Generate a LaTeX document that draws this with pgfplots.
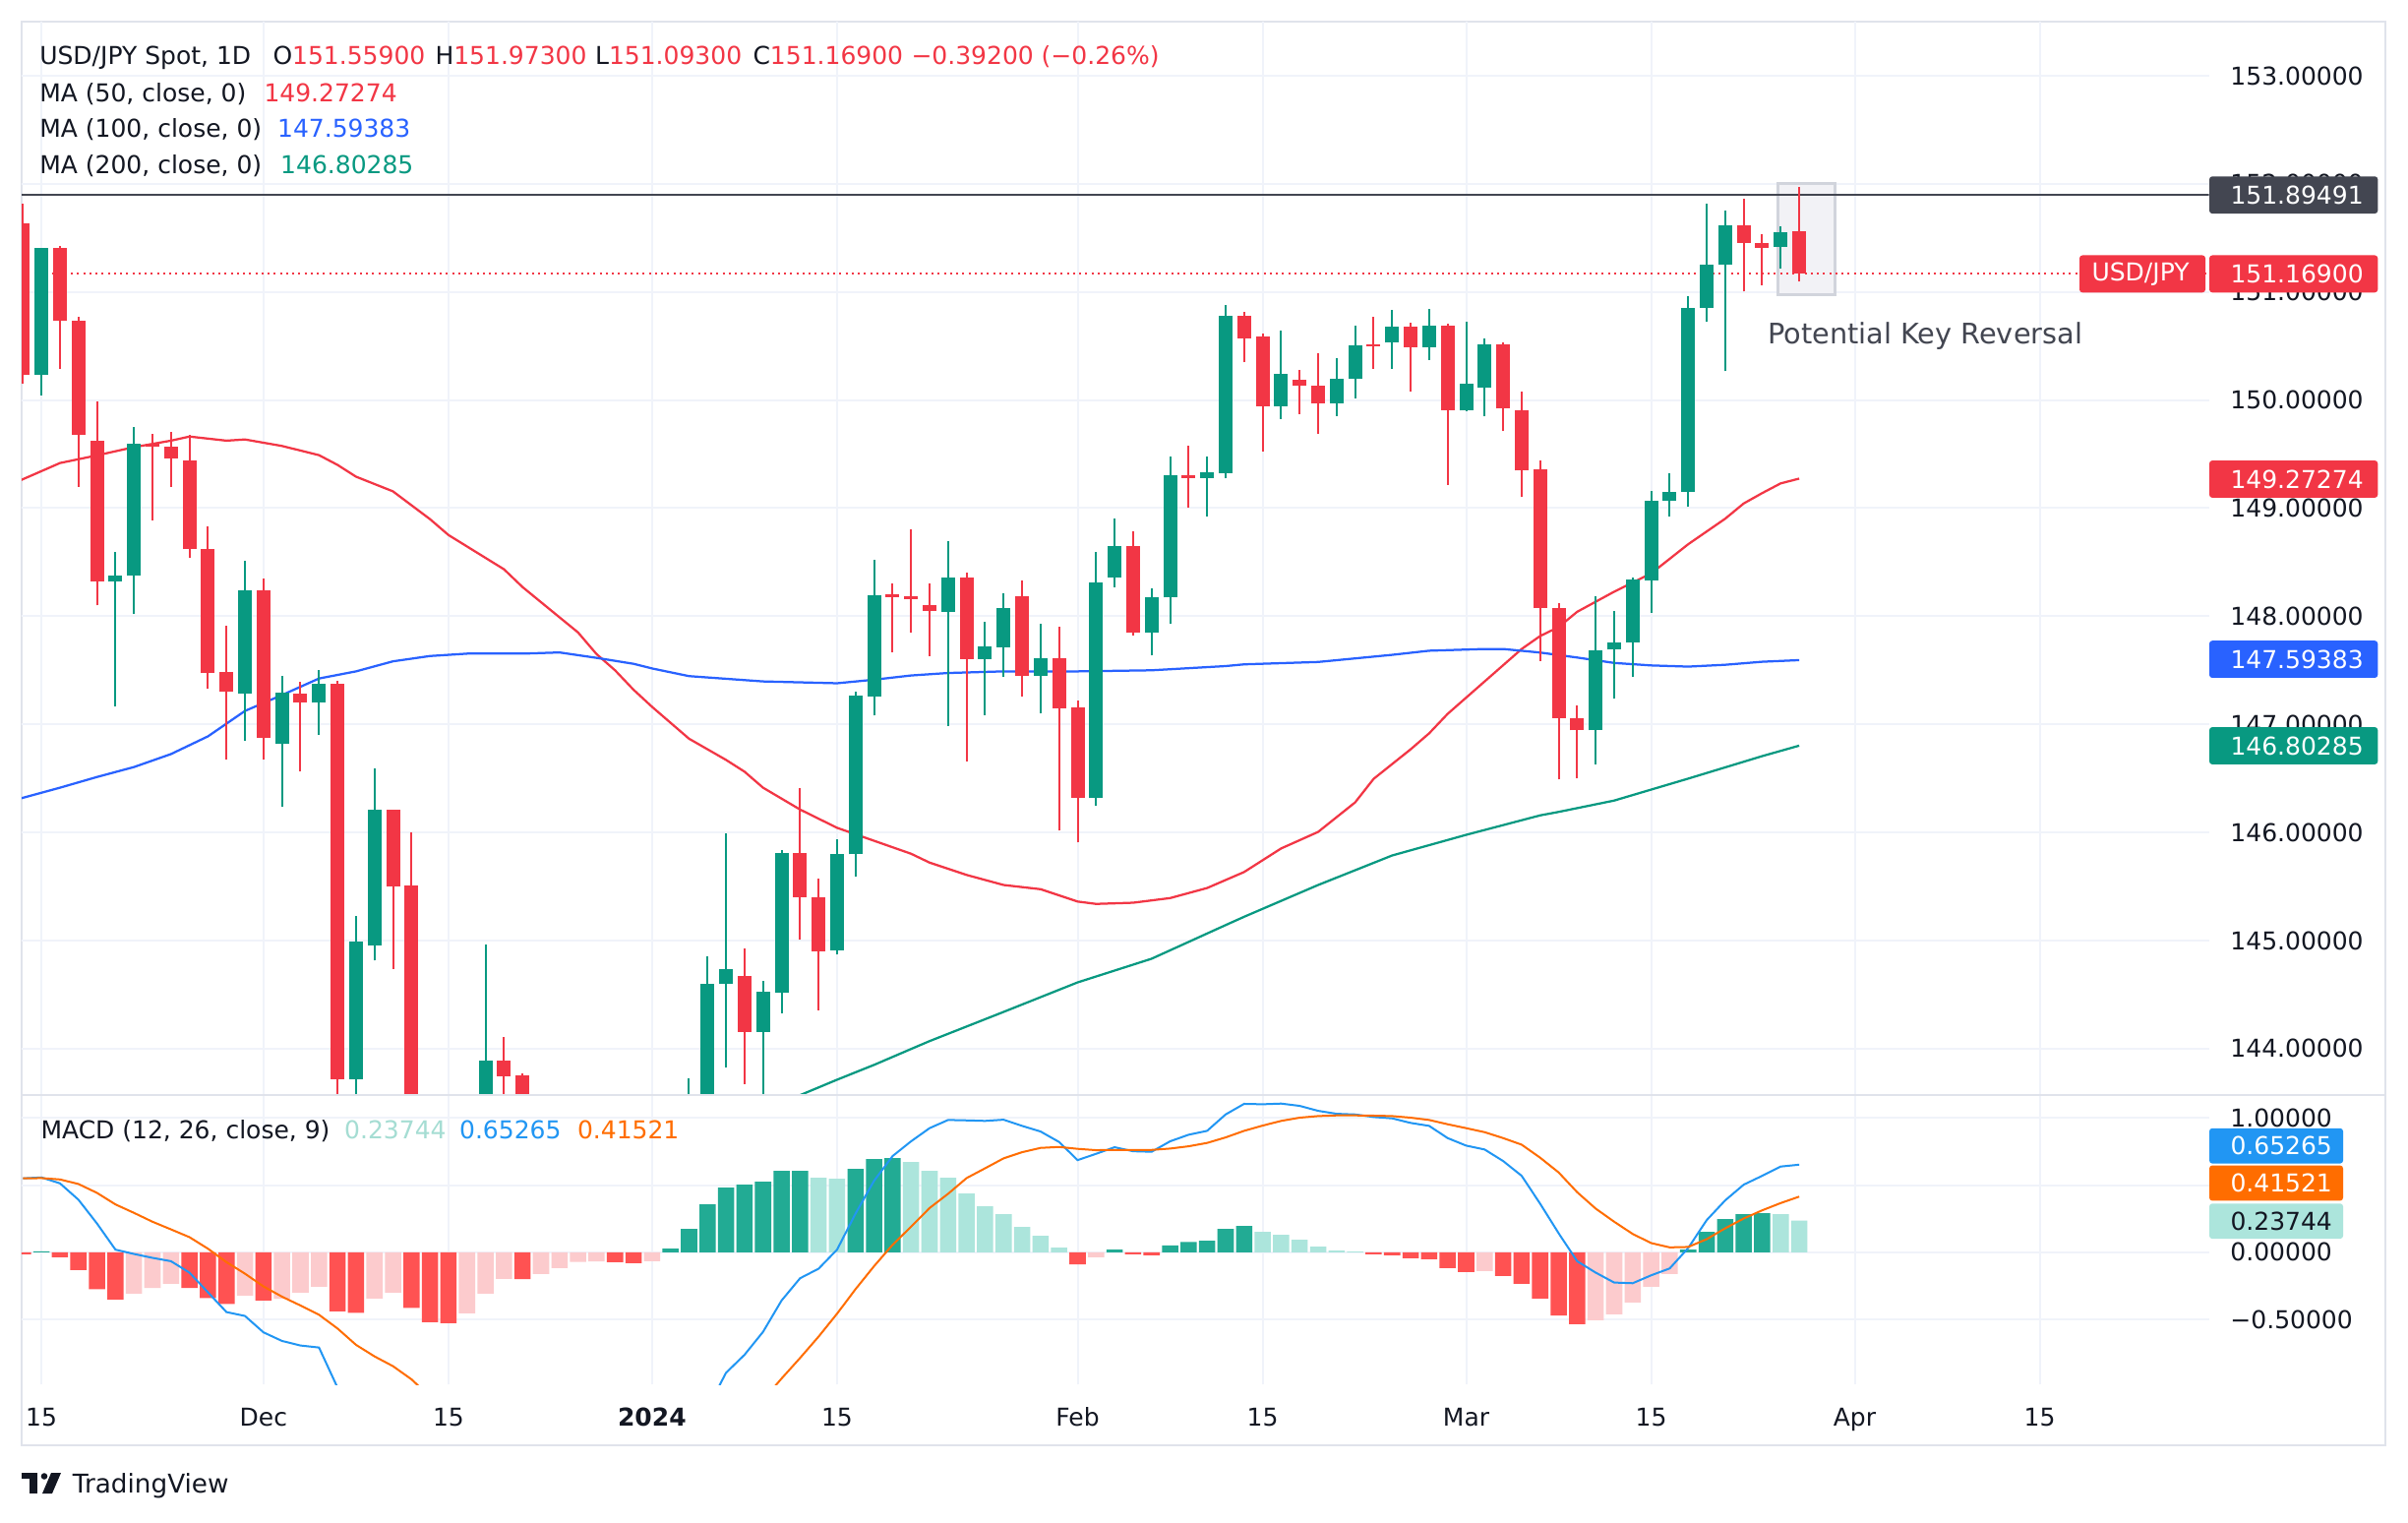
\documentclass[border=0pt]{standalone}
\usepackage{fontspec}
\setmainfont{DejaVu Sans}
\usepackage{pgfplots}
\pgfplotsset{compat=1.18}
\usepackage{pgfplotstable}

\definecolor{tvred}{HTML}{F23645}
\definecolor{tvgreen}{HTML}{089981}
\definecolor{mablue}{HTML}{2962FF}
\definecolor{macdblue}{HTML}{2196F3}
\definecolor{sigorange}{HTML}{FF6D00}
\definecolor{hD}{HTML}{22AB94}
\definecolor{hL}{HTML}{ACE5DC}
\definecolor{hP}{HTML}{FCCBCD}
\definecolor{hR}{HTML}{FF5252}
\definecolor{tvtext}{HTML}{131722}
\definecolor{gridc}{HTML}{F0F3FA}
\definecolor{framec}{HTML}{E0E3EB}
\definecolor{tagdark}{HTML}{434651}
\definecolor{hlfill}{HTML}{F2F2F6}
\definecolor{hlborder}{HTML}{D1D4DC}
\definecolor{legteal}{HTML}{A5DDD3}

\newcommand{\fs}{\fontsize{10}{12}\selectfont}

% bullish candles: index O H L C
\pgfplotstableread{
i O H L C
0 150.235 151.41 150.044 151.409
4 148.319 148.592 147.162 148.38
5 148.374 149.75 148.019 149.597
11 147.282 148.511 146.851 148.238
13 146.818 147.446 146.234 147.293
15 147.2 147.5 146.906 147.375
17 143.72 145.225 143.3 144.99
18 144.952 146.589 144.815 146.207
22 141.9 142.5 141.5 142.2
23 142.1 143.0 141.9 142.8
24 142.8 144.963 142.7 143.887
27 142.1 142.5 141.6 142.4
29 142.3 142.6 142.2 142.4
33 141.0 141.1 140.9 141.05
34 141.05 142.2 140.8 142.0
35 142.0 143.729 141.8 143.3
36 143.3 144.853 143.2 144.597
37 144.602 145.989 143.822 144.739
39 144.155 144.63 143.45 144.526
40 144.52 145.841 144.329 145.809
43 144.913 145.94 144.87 145.798
44 145.798 147.304 145.596 147.266
45 147.26 148.521 147.08 148.194
49 148.041 148.696 146.988 148.358
51 147.604 147.948 147.086 147.719
52 147.713 148.21 147.435 148.074
54 147.446 147.932 147.102 147.61
57 146.322 148.592 146.251 148.314
58 148.358 148.904 148.27 148.647
60 147.845 148.259 147.637 148.178
61 148.172 149.477 147.932 149.307
63 149.28 149.477 148.925 149.335
64 149.324 150.88 149.275 150.781
67 149.946 150.645 149.826 150.241
70 149.968 150.388 149.853 150.197
71 150.192 150.688 150.017 150.508
73 150.53 150.836 150.29 150.678
75 150.486 150.841 150.372 150.688
77 149.902 150.721 149.90 150.154
78 150.11 150.568 149.848 150.514
84 146.943 148.187 146.628 147.686
85 147.69 148.052 147.236 147.754
86 147.754 148.362 147.438 148.339
87 148.328 149.156 148.035 149.071
88 149.071 149.325 148.919 149.15
89 149.15 150.963 149.009 150.856
90 150.85 151.819 150.721 151.256
91 151.25 151.757 150.265 151.616
94 151.414 151.605 151.216 151.549
}\upc

% bearish candles: index O H L C
\pgfplotstableread{
i O H L C
-1 151.638 151.818 150.154 150.235
1 151.409 151.425 150.29 150.732
2 150.732 150.77 149.198 149.679
3 149.624 149.99 148.101 148.319
6 149.597 149.69 148.887 149.564
7 149.57 149.706 149.198 149.46
8 149.444 149.679 148.538 148.62
9 148.62 148.833 147.331 147.473
10 147.484 147.916 146.671 147.299
12 148.238 148.347 146.671 146.873
14 147.282 147.392 146.562 147.2
16 147.375 147.40 141.6 143.72
19 146.207 146.21 144.739 145.497
20 145.508 146.005 142.8 142.9
21 142.9 143.2 140.97 141.9
25 143.887 144.105 143.35 143.745
26 143.75 143.77 141.9 142.1
28 142.4 142.5 142.2 142.3
30 142.4 142.5 141.7 141.8
31 141.8 141.9 140.8 141.4
32 141.4 141.5 140.9 141.0
38 144.673 144.93 143.674 144.155
41 145.809 146.409 145.006 145.405
42 145.405 145.574 144.357 144.897
46 148.20 148.303 147.664 148.18
47 148.183 148.805 147.845 148.156
48 148.107 148.303 147.632 148.047
50 148.358 148.401 146.66 147.604
53 148.183 148.33 147.255 147.446
55 147.61 147.905 146.016 147.146
56 147.157 147.222 145.907 146.322
59 148.647 148.783 147.823 147.845
62 149.302 149.58 149.007 149.28
65 150.781 150.819 150.35 150.574
66 150.59 150.618 149.526 149.946
68 150.186 150.274 149.87 150.132
69 150.132 150.437 149.69 149.968
72 150.51 150.77 150.29 150.495
74 150.678 150.716 150.077 150.486
76 150.688 150.705 149.215 149.908
79 150.514 150.536 149.711 149.919
80 149.908 150.077 149.1 149.346
81 149.362 149.444 147.588 148.074
82 148.075 148.125 146.492 147.061
83 147.061 147.174 146.498 146.943
92 151.616 151.864 151.003 151.453
93 151.453 151.537 151.059 151.408
95 151.559 151.973 151.093 151.169
}\dnc

\newcommand{\ptag}[5]{%
  \fill[#2, rounded corners=1.2pt] (898.4pt,#1pt-7.56pt) rectangle (#5pt,#1pt+7.56pt);
  \node[anchor=west, inner sep=0pt, text=#3, font=\fs] at (906.8pt,#1pt) {#4};}
\newcommand{\mtag}[4]{%
  \fill[#2, rounded corners=1.2pt] (898.4pt,#1pt-7.16pt) rectangle (952.8pt,#1pt+7.16pt);
  \node[anchor=west, inner sep=0pt, text=#3, font=\fs] at (906.8pt,#1pt) {#4};}

\pgfplotsset{candle/.style={only marks, mark=*, mark size=0pt,
  mark options={draw=none, fill=none}, forget plot}}

\begin{document}
\begin{tikzpicture}
\path[use as bounding box, fill=white] (0pt,0pt) rectangle (979.2pt,618.8pt);
\draw[framec, line width=0.8pt] (8.8pt,31.2pt) rectangle (970pt,610pt);

% ---------------- main price panel ----------------
\begin{axis}[
  at={(8.8pt,173.72pt)}, anchor=south west,
  scale only axis, width=889.48pt, height=436.28pt,
  xmin=-1.071, xmax=117.15, ymin=143.574, ymax=153.50,
  axis line style={draw=none}, major tick length=0pt, tick style={draw=none},
  xtick={0,12,22,33,43,56,66,77,87,98,108}, xticklabel=\empty,
  ytick={144,145,146,147,148,149,150,151,152,153},
  yticklabels={144.00000,145.00000,146.00000,147.00000,148.00000,149.00000,150.00000,151.00000,152.00000,153.00000},
  yticklabel pos=right,
  tick label style={font=\fs, text=tvtext},
  yticklabel style={anchor=west, inner sep=0pt, xshift=8.5pt},
  grid=major, grid style={line width=0.8pt, color=gridc},
]
\draw[fill=hlfill, draw=hlborder, line width=1.2pt] (axis cs:93.86,150.975) rectangle (axis cs:96.96,152.0);
\addplot[tagdark, line width=0.7pt] coordinates {(-1.2,151.89491) (117.3,151.89491)};
\addplot[tvred, line width=0.8pt, dash pattern=on 0.8pt off 1.7pt] coordinates {(-0.4,151.169) (117.3,151.169)};
% MA 50
\addplot[tvred, line width=0.9pt] coordinates {
(-1.1,149.26) (1,149.417) (3,149.488) (5,149.564) (7,149.624) (8,149.662) (10,149.624) (11,149.635)
(13,149.575) (15,149.49) (16,149.40) (17,149.291) (19,149.155) (21,148.898) (22,148.751) (25,148.434)
(26,148.27) (29,147.85) (30,147.65) (31,147.50) (32,147.32) (33,147.162) (35,146.867) (37,146.671)
(38,146.562) (39,146.414) (41,146.212) (43,146.043) (45,145.923) (47,145.803) (48,145.721) (50,145.607)
(52,145.514) (54,145.475) (56,145.361) (57,145.339) (59,145.35) (61,145.393) (63,145.486) (65,145.634)
(67,145.852) (69,146.005) (71,146.278) (72,146.496) (74,146.769) (75,146.917) (76,147.097) (78,147.397)
(80,147.697) (81,147.817) (82,147.90) (83,148.041) (85,148.227) (87,148.396) (89,148.666) (91,148.902)
(92,149.043) (93,149.139) (94,149.229) (95,149.273)};
% MA 100
\addplot[mablue, line width=0.9pt] coordinates {
(-1.1,146.316) (1,146.414) (3,146.513) (5,146.605) (7,146.725) (9,146.889) (11,147.124) (13,147.271)
(15,147.424) (17,147.49) (19,147.583) (21,147.632) (23,147.654) (26,147.654) (28,147.665) (30,147.615)
(32,147.56) (33,147.517) (35,147.446) (39,147.397) (43,147.38) (45,147.413) (47,147.452) (49,147.475)
(52,147.49) (56,147.49) (60,147.50) (64,147.539) (65,147.555) (69,147.577) (73,147.643) (75,147.681)
(78,147.697) (79,147.697) (81,147.664) (83,147.618) (85,147.568) (87,147.545) (89,147.534) (91,147.551)
(93,147.579) (95,147.594)};
% MA 200
\addplot[tvgreen, line width=0.9pt] coordinates {
(30,142.8) (35,143.15) (39,143.43) (41,143.57) (43,143.713) (45,143.85) (47,143.997) (48,144.07)
(52,144.34) (56,144.613) (60,144.832) (64,145.143) (65,145.22) (69,145.514) (73,145.787) (77,145.978)
(81,146.158) (82,146.19) (85,146.295) (89,146.498) (93,146.706) (95,146.803)};
% candles: wicks then bodies
\addplot[candle, error bars/.cd, y dir=plus, y explicit, error mark=none,
  error bar style={line width=0.8pt, draw=tvgreen, line cap=butt}]
  table[x=i, y=L, y error expr=\thisrow{H}-\thisrow{L}] {\upc};
\addplot[candle, error bars/.cd, y dir=plus, y explicit, error mark=none,
  error bar style={line width=5.6pt, draw=tvgreen, line cap=butt}]
  table[x=i, y=O, y error expr={max(\thisrow{C}-\thisrow{O},0.02)}] {\upc};
\addplot[candle, error bars/.cd, y dir=plus, y explicit, error mark=none,
  error bar style={line width=0.8pt, draw=tvred, line cap=butt}]
  table[x=i, y=L, y error expr=\thisrow{H}-\thisrow{L}] {\dnc};
\addplot[candle, error bars/.cd, y dir=plus, y explicit, error mark=none,
  error bar style={line width=5.6pt, draw=tvred, line cap=butt}]
  table[x=i, y=C, y error expr={max(\thisrow{O}-\thisrow{C},0.02)}] {\dnc};
\end{axis}

% ---------------- MACD panel ----------------
\begin{axis}[
  at={(8.8pt,55.88pt)}, anchor=south west,
  scale only axis, width=889.48pt, height=117.84pt,
  xmin=-1.071, xmax=117.15, ymin=-0.985, ymax=1.174,
  axis line style={draw=none}, major tick length=0pt, tick style={draw=none},
  xtick={0,12,22,33,43,56,66,77,87,98,108},
  xticklabels={15,Dec,15,\textbf{2024},15,Feb,15,Mar,15,Apr,15},
  xticklabel style={anchor=base, inner sep=0pt, yshift=-16.7pt},
  ytick={-0.5,0,0.5,1},
  yticklabels={−0.50000,0.00000,0.50000,1.00000},
  yticklabel pos=right,
  tick label style={font=\fs, text=tvtext},
  yticklabel style={anchor=west, inner sep=0pt, xshift=8.5pt},
  grid=major, grid style={line width=0.8pt, color=gridc},
]
\addplot[ybar, bar width=0.88, bar shift=0pt, fill=hR, draw=none] coordinates {
(-1,-0.015) (1,-0.037) (2,-0.132) (3,-0.274) (4,-0.352) (8,-0.266) (9,-0.340) (10,-0.384) (12,-0.359)
(16,-0.440) (17,-0.450) (20,-0.413) (21,-0.521) (22,-0.528) (26,-0.200) (31,-0.073) (32,-0.080)
(56,-0.090) (59,-0.015) (60,-0.022) (72,-0.015) (73,-0.022) (74,-0.044) (75,-0.051) (76,-0.117)
(77,-0.147) (79,-0.176) (80,-0.235) (81,-0.345) (82,-0.470) (83,-0.535)};
\addplot[ybar, bar width=0.88, bar shift=0pt, fill=hP, draw=none] coordinates {
(5,-0.308) (6,-0.266) (7,-0.235) (11,-0.323) (13,-0.347) (14,-0.300) (15,-0.257) (18,-0.345) (19,-0.300)
(23,-0.455) (24,-0.308) (25,-0.198) (27,-0.161) (28,-0.117) (29,-0.071) (30,-0.068) (33,-0.066)
(57,-0.037) (78,-0.139) (84,-0.506) (85,-0.462) (86,-0.374) (87,-0.257) (88,-0.161)};
\addplot[ybar, bar width=0.88, bar shift=0pt, fill=hD, draw=none] coordinates {
(0,0.007) (34,0.027) (35,0.174) (36,0.357) (37,0.482) (38,0.504) (39,0.526) (40,0.607) (41,0.607)
(44,0.621) (45,0.695) (46,0.702) (58,0.020) (61,0.051) (62,0.078) (63,0.086) (64,0.174) (65,0.196)
(89,0.020) (90,0.152) (91,0.247) (92,0.284) (93,0.291)};
\addplot[ybar, bar width=0.88, bar shift=0pt, fill=hL, draw=none] coordinates {
(42,0.555) (43,0.548) (47,0.673) (48,0.607) (49,0.555) (50,0.438) (51,0.343) (52,0.284) (53,0.189)
(54,0.123) (55,0.035) (66,0.152) (67,0.130) (68,0.093) (69,0.042) (70,0.013) (71,0.005) (94,0.284) (95,0.237)};
% MACD line
\addplot[macdblue, line width=0.8pt] coordinates {
(-1,0.551) (0,0.558) (1,0.514) (2,0.392) (3,0.215) (4,0.020) (5,-0.012) (6,-0.041) (7,-0.066) (8,-0.151)
(9,-0.298) (10,-0.445) (11,-0.474) (12,-0.596) (13,-0.660) (14,-0.694) (15,-0.709) (16,-1.007) (17,-1.139)
(18,-1.12) (19,-1.148) (20,-1.359) (21,-1.597) (22,-1.736) (23,-1.777) (24,-1.707) (25,-1.647) (26,-1.699)
(27,-1.700) (28,-1.685) (29,-1.657) (30,-1.671) (31,-1.694) (32,-1.721) (33,-1.724) (34,-1.624) (35,-1.434)
(36,-1.162) (37,-0.897) (38,-0.763) (39,-0.592) (40,-0.359) (41,-0.193) (42,-0.122) (43,0.020) (44,0.289)
(45,0.533) (46,0.717) (47,0.827) (48,0.925) (49,0.986) (50,0.983) (51,0.979) (52,0.988) (53,0.942)
(54,0.900) (55,0.822) (56,0.687) (57,0.734) (58,0.783) (59,0.753) (60,0.749) (61,0.827) (62,0.876)
(63,0.905) (64,1.027) (65,1.106) (66,1.103) (67,1.108) (68,1.091) (69,1.054) (70,1.032) (71,1.027)
(72,1.008) (73,0.998) (74,0.964) (75,0.942) (76,0.851) (77,0.795) (78,0.766) (79,0.680) (80,0.570)
(81,0.362) (82,0.142) (83,-0.066) (84,-0.151) (85,-0.225) (86,-0.230) (87,-0.171) (88,-0.120) (89,0.032)
(90,0.240) (91,0.387) (92,0.504) (93,0.570) (94,0.639) (95,0.653)};
% signal line
\addplot[sigorange, line width=0.8pt] coordinates {
(-1,0.551) (0,0.553) (1,0.543) (2,0.509) (3,0.443) (4,0.357) (5,0.294) (6,0.228) (7,0.171) (8,0.113)
(9,0.027) (10,-0.073) (11,-0.159) (12,-0.254) (13,-0.330) (14,-0.396) (15,-0.465) (16,-0.567) (17,-0.689)
(18,-0.775) (19,-0.848) (20,-0.946) (21,-1.076) (22,-1.208) (23,-1.322) (24,-1.399) (25,-1.449) (26,-1.499)
(27,-1.539) (28,-1.568) (29,-1.586) (30,-1.603) (31,-1.621) (32,-1.641) (33,-1.658) (34,-1.651) (35,-1.608)
(36,-1.519) (37,-1.398) (38,-1.272) (39,-1.10) (40,-0.94) (41,-0.787) (42,-0.628) (43,-0.457) (44,-0.274)
(45,-0.103) (46,0.056) (47,0.191) (48,0.33) (49,0.436) (50,0.553) (51,0.626) (52,0.700) (53,0.746)
(54,0.778) (55,0.785) (56,0.771) (57,0.761) (58,0.763) (59,0.763) (60,0.763) (61,0.773) (62,0.790)
(63,0.815) (64,0.856) (65,0.905) (66,0.944) (67,0.979) (68,1.003) (69,1.015) (70,1.020) (71,1.020)
(72,1.018) (73,1.015) (74,1.003) (75,0.986) (76,0.954) (77,0.925) (78,0.895) (79,0.851) (80,0.802)
(81,0.705) (82,0.595) (83,0.448) (84,0.326) (85,0.228) (86,0.137) (87,0.069) (88,0.037) (89,0.040)
(90,0.098) (91,0.179) (92,0.252) (93,0.313) (94,0.367) (95,0.415)};
\end{axis}

% separator between panels
\draw[framec, line width=0.8pt] (8.8pt,173.72pt) -- (970pt,173.72pt);

% price tags
\ptag{539.52}{tagdark}{white}{151.89491}{966.9}
\ptag{507.44}{tvred}{white}{151.16900}{966.9}
\fill[tvred, rounded corners=1.2pt] (845.6pt,507.44pt-7.56pt) rectangle (896.8pt,507.44pt+7.56pt);
\node[anchor=west, inner sep=0pt, text=white, font=\fs] at (850.4pt,507.44pt) {USD/JPY};
\ptag{424.0}{tvred}{white}{149.27274}{966.9}
\ptag{350.76}{mablue}{white}{147.59383}{966.9}
\ptag{315.6}{tvgreen}{white}{146.80285}{966.9}
\mtag{152.92}{macdblue}{white}{0.65265}
\mtag{137.8}{sigorange}{white}{0.41521}
\mtag{122.32}{hL}{tvtext}{0.23744}

% legends
\begin{scope}[every node/.style={anchor=base west, inner sep=0pt, font=\fs, text=tvtext}]
\node at (15.92pt,592.52pt) {USD/JPY Spot, 1D};
\node at (110.8pt,592.52pt) {O\textcolor{tvred}{151.55900}};
\node at (176.8pt,592.52pt) {H\textcolor{tvred}{151.97300}};
\node at (241.84pt,592.52pt) {L\textcolor{tvred}{151.09300}};
\node at (306pt,592.52pt) {C\textcolor{tvred}{151.16900}};
\node at (370.4pt,592.52pt) {\textcolor{tvred}{−0.39200 (−0.26\%)}};
\node at (15.92pt,577.48pt) {MA (50, close, 0)};
\node at (107.2pt,577.48pt) {\textcolor{tvred}{149.27274}};
\node at (15.92pt,562.8pt) {MA (100, close, 0)};
\node at (112.64pt,562.8pt) {\textcolor{mablue}{147.59383}};
\node at (15.92pt,548.12pt) {MA (200, close, 0)};
\node at (113.88pt,548.12pt) {\textcolor{tvgreen}{146.80285}};
\node at (16.4pt,155.88pt) {MACD (12, 26, close, 9)};
\node at (139.88pt,155.88pt) {\textcolor{legteal}{0.23744}};
\node at (186.64pt,155.88pt) {\textcolor{macdblue}{0.65265}};
\node at (234.6pt,155.88pt) {\textcolor{sigorange}{0.41521}};
\end{scope}

\node[anchor=base west, inner sep=0pt, font=\fontsize{11.5}{13}\selectfont, text=tagdark] at (718.68pt,479.12pt) {Potential Key Reversal};

% TradingView logo
\fill[tvtext] (8.8pt,20pt) rectangle (15.2pt,17.6pt);
\fill[tvtext] (12pt,20pt) rectangle (15.2pt,11.6pt);
\fill[tvtext] (18pt,18.6pt) circle (1.32pt);
\fill[tvtext] (20.8pt,20pt) -- (24.8pt,20pt) -- (21.2pt,11.6pt) -- (17.2pt,11.6pt) -- cycle;
\node[anchor=base west, inner sep=0pt, font=\fontsize{10.5}{12}\selectfont, text=tvtext] at (29.36pt,11.72pt) {TradingView};
\end{tikzpicture}
\end{document}
